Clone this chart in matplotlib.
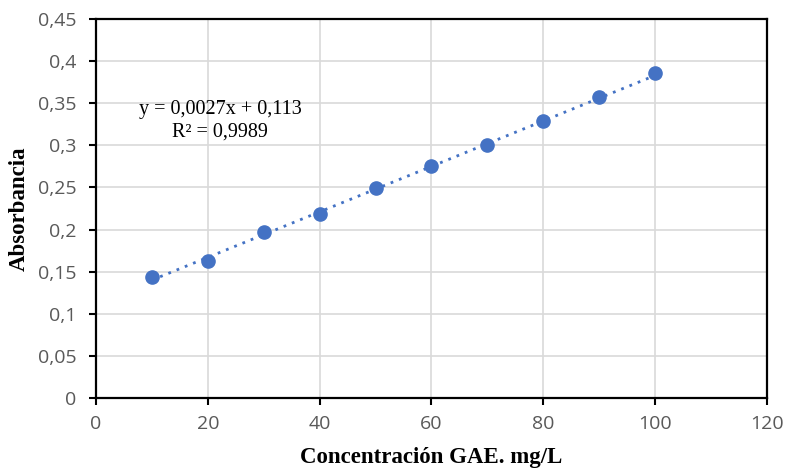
import matplotlib
matplotlib.use("Agg")
import matplotlib.pyplot as plt
from matplotlib import font_manager
import numpy as np

concentracion = [10, 20, 30, 40, 50, 60, 70, 80, 90, 100]
absorbancia = [0.144, 0.163, 0.197, 0.218, 0.249, 0.276, 0.300, 0.329, 0.357, 0.386]
pendiente = 0.0027
intercepto = 0.113
x_ticks = [0, 20, 40, 60, 80, 100, 120]
y_ticks = [0, 0.05, 0.1, 0.15, 0.2, 0.25, 0.3, 0.35, 0.4, 0.45]
y_tick_labels = ["0", "0,05", "0,1", "0,15", "0,2", "0,25", "0,3", "0,35", "0,4", "0,45"]
ecuacion = "y = 0,0027x + 0,113"
r2 = "R² = 0,9989"

blue = "#4472C4"
available = {f.name for f in font_manager.fontManager.ttflist}
tick_family = next((f for f in ["Liberation Sans Narrow", "Open Sans", "Noto Sans"] if f in available), "DejaVu Sans")
tick_font = [tick_family, "DejaVu Sans"]
serif = ["Liberation Serif", "DejaVu Serif"]

fig = plt.figure(figsize=(7.86, 4.75), dpi=100)
ax = fig.add_axes([0.1221, 0.1621, 0.8537, 0.7979])

xl = np.array([concentracion[0], concentracion[-1]])
ax.plot(xl, pendiente * xl + intercepto, linestyle=(0, (1, 2.2)), color=blue, linewidth=2, zorder=3)
ax.plot(concentracion, absorbancia, "o", color=blue, markersize=9.5, zorder=4)

ax.set_xlim(0, 120)
ax.set_ylim(0, 0.45)
ax.set_xticks(x_ticks)
ax.set_yticks(y_ticks)
ax.set_yticklabels(y_tick_labels)
for lab in ax.get_xticklabels() + ax.get_yticklabels():
    lab.set_family(tick_font)
    lab.set_fontsize(14)
    lab.set_color("#595959")
ax.tick_params(direction="out", length=5, width=1.5, color="black")
ax.tick_params(axis="y", pad=9)
ax.tick_params(axis="x", pad=7)
ax.grid(True, color="#D9D9D9", linewidth=1.2)
ax.set_axisbelow(True)
for s in ax.spines.values():
    s.set_linewidth(1.6)
    s.set_color("black")

ax.set_xlabel("Concentración GAE. mg/L", family=serif, fontweight="bold", fontsize=16.5, labelpad=10)
ax.set_ylabel("Absorbancia", family=serif, fontweight="bold", fontsize=16.5, labelpad=6)

ax.text(22.2, 0.343, ecuacion, family=serif, fontsize=14.5, ha="center", va="center")
ax.text(22.2, 0.316, r2, family=serif, fontsize=14.5, ha="center", va="center")

fig.savefig("out.png", dpi=100)
